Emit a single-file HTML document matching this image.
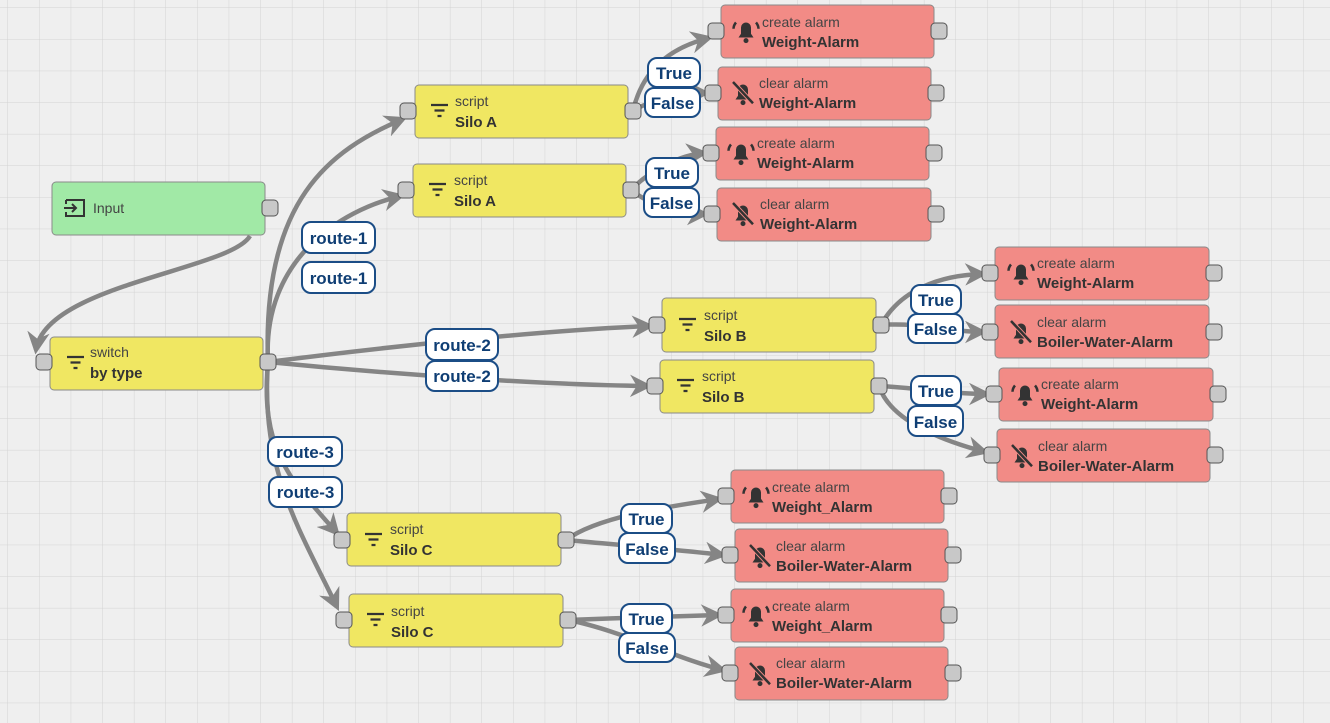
<!DOCTYPE html>
<html><head><meta charset="utf-8"><style>
html,body{margin:0;padding:0;background:#efefef;}
svg{display:block;font-family:"Liberation Sans",sans-serif;}
.n rect.b{stroke:#8a8a8a;stroke-width:1;}
.p{fill:#c8c8c8;stroke:#555;stroke-width:1;}
.t1{font-size:14px;fill:#444;}
.t2{font-size:15px;fill:#333;font-weight:bold;}
.e{fill:none;stroke:#858585;stroke-width:4.5;}
.lb rect{fill:#fff;stroke:#1b4d86;stroke-width:2;}
.lb text{font-size:17px;font-weight:bold;fill:#0f3e74;text-anchor:middle;}
.ic{stroke:#333;stroke-width:2;fill:none;}
</style></head><body>
<svg width="1330" height="723" viewBox="0 0 1330 723" xmlns="http://www.w3.org/2000/svg">
<defs>
<pattern id="g" width="31.6" height="31.6" patternUnits="userSpaceOnUse" x="8" y="8">
<path d="M31.6 0V31.6H0" fill="none" stroke="#d3d3d3" stroke-width="1"/></pattern>
<marker id="a" viewBox="0 0 10 10" refX="8" refY="5" markerWidth="5" markerHeight="5" orient="auto"><path d="M0 0L10 5L0 10L3 5Z" fill="#858585"/></marker>
<g id="flt"><path d="M0 0h17M3.5 5.5h10M6.5 11h4" stroke="#333" stroke-width="2.2"/></g>
<g id="bell" transform="scale(1.25)"><path d="M-6 6h12l-2-3v-5a4 4 0 0 0-8 0v5z" fill="#333"/><circle cx="0" cy="8.5" r="2" fill="#333"/><path d="M-8-6a8 8 0 0 0-2 5M8-6a8 8 0 0 1 2 5" stroke="#333" stroke-width="2" fill="none"/></g>
<g id="bellx" transform="scale(1.25)"><path d="M-6 6h12l-2-3v-5a4 4 0 0 0-8 0v5z" fill="#333"/><circle cx="0" cy="8.5" r="2" fill="#333"/><path d="M-8-8L8 9" stroke="#f28b86" stroke-width="3.5"/><path d="M-8-8L8 9" stroke="#333" stroke-width="2"/></g>
</defs>
<rect width="1330" height="723" fill="#efefef"/>
<rect width="1330" height="723" fill="url(#g)"/>

<g class="e">
<path d="M250 236 C230 270,45 285,36 350" marker-end="url(#a)"/>
<path d="M268 362 C262 200,330 150,403 119" marker-end="url(#a)"/>
<path d="M268 362 C262 260,340 210,401 196" marker-end="url(#a)"/>
<path d="M268 362 C400 345,550 330,650 326" marker-end="url(#a)"/>
<path d="M268 362 C400 375,550 385,648 386" marker-end="url(#a)"/>
<path d="M268 362 C260 450,290 480,337 533" marker-end="url(#a)"/>
<path d="M268 362 C260 470,300 530,337 607" marker-end="url(#a)"/>
<path d="M633 111 C640 80,660 50,709 38" marker-end="url(#a)"/>
<path d="M633 111 C650 100,680 93,706 93" marker-end="url(#a)"/>
<path d="M631 190 C650 170,680 155,704 153" marker-end="url(#a)"/>
<path d="M631 190 C650 205,680 214,705 214" marker-end="url(#a)"/>
<path d="M881 325 C900 290,940 275,983 274" marker-end="url(#a)"/>
<path d="M881 325 C920 322,950 332,983 332" marker-end="url(#a)"/>
<path d="M879 386 C920 388,950 394,987 394" marker-end="url(#a)"/>
<path d="M879 386 C890 420,940 440,985 452" marker-end="url(#a)"/>
<path d="M566 540 C600 515,680 505,719 499" marker-end="url(#a)"/>
<path d="M566 540 C620 545,680 550,723 555" marker-end="url(#a)"/>
<path d="M568 620 C620 618,680 616,719 615" marker-end="url(#a)"/>
<path d="M568 620 C620 630,680 660,723 670" marker-end="url(#a)"/>
</g>

<g class="n"><rect class="b" x="52" y="182" width="213" height="53" rx="4" fill="#a1e9a6"/>
<path d="M66 200h18v16h-18v-4M66 204v-4M64 208h12M72 204l4 4-4 4" class="ic"/>
<text x="93" y="213" class="t1">Input</text>
<rect class="p" x="262" y="200" width="16" height="16" rx="4"/></g>

<g class="n"><rect class="b" x="50" y="337" width="213" height="53" rx="4" fill="#f0e762"/>
<use href="#flt" x="67" y="357"/>
<text x="90" y="357" class="t1">switch</text><text x="90" y="378" class="t2">by type</text>
<rect class="p" x="36" y="354" width="16" height="16" rx="4"/><rect class="p" x="260" y="354" width="16" height="16" rx="4"/></g>

<g class="n"><rect class="b" x="415" y="85" width="213" height="53" rx="4" fill="#f0e762"/><use href="#flt" x="431" y="105"/><text x="455" y="106" class="t1">script</text><text x="455" y="127" class="t2">Silo A</text><rect class="p" x="400" y="103" width="16" height="16" rx="4"/><rect class="p" x="625" y="103" width="16" height="16" rx="4"/></g>
<g class="n"><rect class="b" x="413" y="164" width="213" height="53" rx="4" fill="#f0e762"/><use href="#flt" x="429" y="184"/><text x="454" y="185" class="t1">script</text><text x="454" y="206" class="t2">Silo A</text><rect class="p" x="398" y="182" width="16" height="16" rx="4"/><rect class="p" x="623" y="182" width="16" height="16" rx="4"/></g>
<g class="n"><rect class="b" x="662" y="298" width="214" height="54" rx="4" fill="#f0e762"/><use href="#flt" x="679" y="319"/><text x="704" y="320" class="t1">script</text><text x="704" y="341" class="t2">Silo B</text><rect class="p" x="649" y="317" width="16" height="16" rx="4"/><rect class="p" x="873" y="317" width="16" height="16" rx="4"/></g>
<g class="n"><rect class="b" x="660" y="360" width="214" height="53" rx="4" fill="#f0e762"/><use href="#flt" x="677" y="380"/><text x="702" y="381" class="t1">script</text><text x="702" y="402" class="t2">Silo B</text><rect class="p" x="647" y="378" width="16" height="16" rx="4"/><rect class="p" x="871" y="378" width="16" height="16" rx="4"/></g>
<g class="n"><rect class="b" x="347" y="513" width="214" height="53" rx="4" fill="#f0e762"/><use href="#flt" x="365" y="534"/><text x="390" y="534" class="t1">script</text><text x="390" y="555" class="t2">Silo C</text><rect class="p" x="334" y="532" width="16" height="16" rx="4"/><rect class="p" x="558" y="532" width="16" height="16" rx="4"/></g>
<g class="n"><rect class="b" x="349" y="594" width="214" height="53" rx="4" fill="#f0e762"/><use href="#flt" x="367" y="614"/><text x="391" y="616" class="t1">script</text><text x="391" y="637" class="t2">Silo C</text><rect class="p" x="336" y="612" width="16" height="16" rx="4"/><rect class="p" x="560" y="612" width="16" height="16" rx="4"/></g>

<g class="n"><rect class="b" x="721" y="5" width="213" height="53" rx="4" fill="#f28b86"/><use href="#bell" x="746" y="30"/><text x="762" y="27" class="t1">create alarm</text><text x="762" y="47" class="t2">Weight-Alarm</text><rect class="p" x="708" y="23" width="16" height="16" rx="4"/><rect class="p" x="931" y="23" width="16" height="16" rx="4"/></g>
<g class="n"><rect class="b" x="718" y="67" width="213" height="53" rx="4" fill="#f28b86"/><use href="#bellx" x="743" y="92"/><text x="759" y="88" class="t1">clear alarm</text><text x="759" y="108" class="t2">Weight-Alarm</text><rect class="p" x="705" y="85" width="16" height="16" rx="4"/><rect class="p" x="928" y="85" width="16" height="16" rx="4"/></g>
<g class="n"><rect class="b" x="716" y="127" width="213" height="53" rx="4" fill="#f28b86"/><use href="#bell" x="741" y="152"/><text x="757" y="148" class="t1">create alarm</text><text x="757" y="168" class="t2">Weight-Alarm</text><rect class="p" x="703" y="145" width="16" height="16" rx="4"/><rect class="p" x="926" y="145" width="16" height="16" rx="4"/></g>
<g class="n"><rect class="b" x="717" y="188" width="214" height="53" rx="4" fill="#f28b86"/><use href="#bellx" x="743" y="213"/><text x="760" y="209" class="t1">clear alarm</text><text x="760" y="229" class="t2">Weight-Alarm</text><rect class="p" x="704" y="206" width="16" height="16" rx="4"/><rect class="p" x="928" y="206" width="16" height="16" rx="4"/></g>
<g class="n"><rect class="b" x="995" y="247" width="214" height="53" rx="4" fill="#f28b86"/><use href="#bell" x="1021" y="272"/><text x="1037" y="268" class="t1">create alarm</text><text x="1037" y="288" class="t2">Weight-Alarm</text><rect class="p" x="982" y="265" width="16" height="16" rx="4"/><rect class="p" x="1206" y="265" width="16" height="16" rx="4"/></g>
<g class="n"><rect class="b" x="995" y="305" width="214" height="53" rx="4" fill="#f28b86"/><use href="#bellx" x="1021" y="331"/><text x="1037" y="327" class="t1">clear alarm</text><text x="1037" y="347" class="t2">Boiler-Water-Alarm</text><rect class="p" x="982" y="324" width="16" height="16" rx="4"/><rect class="p" x="1206" y="324" width="16" height="16" rx="4"/></g>
<g class="n"><rect class="b" x="999" y="368" width="214" height="53" rx="4" fill="#f28b86"/><use href="#bell" x="1025" y="393"/><text x="1041" y="389" class="t1">create alarm</text><text x="1041" y="409" class="t2">Weight-Alarm</text><rect class="p" x="986" y="386" width="16" height="16" rx="4"/><rect class="p" x="1210" y="386" width="16" height="16" rx="4"/></g>
<g class="n"><rect class="b" x="997" y="429" width="213" height="53" rx="4" fill="#f28b86"/><use href="#bellx" x="1022" y="455"/><text x="1038" y="451" class="t1">clear alarm</text><text x="1038" y="471" class="t2">Boiler-Water-Alarm</text><rect class="p" x="984" y="447" width="16" height="16" rx="4"/><rect class="p" x="1207" y="447" width="16" height="16" rx="4"/></g>
<g class="n"><rect class="b" x="731" y="470" width="213" height="53" rx="4" fill="#f28b86"/><use href="#bell" x="756" y="495"/><text x="772" y="492" class="t1">create alarm</text><text x="772" y="512" class="t2">Weight_Alarm</text><rect class="p" x="718" y="488" width="16" height="16" rx="4"/><rect class="p" x="941" y="488" width="16" height="16" rx="4"/></g>
<g class="n"><rect class="b" x="735" y="529" width="213" height="53" rx="4" fill="#f28b86"/><use href="#bellx" x="760" y="555"/><text x="776" y="551" class="t1">clear alarm</text><text x="776" y="571" class="t2">Boiler-Water-Alarm</text><rect class="p" x="722" y="547" width="16" height="16" rx="4"/><rect class="p" x="945" y="547" width="16" height="16" rx="4"/></g>
<g class="n"><rect class="b" x="731" y="589" width="213" height="53" rx="4" fill="#f28b86"/><use href="#bell" x="756" y="614"/><text x="772" y="611" class="t1">create alarm</text><text x="772" y="631" class="t2">Weight_Alarm</text><rect class="p" x="718" y="607" width="16" height="16" rx="4"/><rect class="p" x="941" y="607" width="16" height="16" rx="4"/></g>
<g class="n"><rect class="b" x="735" y="647" width="213" height="53" rx="4" fill="#f28b86"/><use href="#bellx" x="760" y="673"/><text x="776" y="668" class="t1">clear alarm</text><text x="776" y="688" class="t2">Boiler-Water-Alarm</text><rect class="p" x="722" y="665" width="16" height="16" rx="4"/><rect class="p" x="945" y="665" width="16" height="16" rx="4"/></g>

<g class="lb">
<rect x="302" y="222" width="73" height="31" rx="9"/><text x="338.5" y="244">route-1</text>
<rect x="302" y="262" width="73" height="31" rx="9"/><text x="338.5" y="284">route-1</text>
<rect x="426" y="329" width="72" height="31" rx="9"/><text x="462" y="351">route-2</text>
<rect x="426" y="361" width="72" height="30" rx="9"/><text x="462" y="382">route-2</text>
<rect x="268" y="437" width="74" height="29" rx="9"/><text x="305" y="458">route-3</text>
<rect x="269" y="477" width="73" height="30" rx="9"/><text x="305.5" y="498">route-3</text>
<rect x="648" y="58" width="52" height="29" rx="9"/><text x="674" y="79">True</text>
<rect x="645" y="88" width="55" height="29" rx="9"/><text x="672.5" y="109">False</text>
<rect x="646" y="158" width="52" height="29" rx="9"/><text x="672" y="179">True</text>
<rect x="644" y="188" width="55" height="29" rx="9"/><text x="671.5" y="209">False</text>
<rect x="911" y="285" width="50" height="29" rx="9"/><text x="936" y="306">True</text>
<rect x="908" y="314" width="55" height="29" rx="9"/><text x="935.5" y="335">False</text>
<rect x="911" y="376" width="50" height="29" rx="9"/><text x="936" y="397">True</text>
<rect x="908" y="406" width="55" height="30" rx="9"/><text x="935.5" y="428">False</text>
<rect x="621" y="504" width="51" height="29" rx="9"/><text x="646.5" y="525">True</text>
<rect x="619" y="533" width="56" height="30" rx="9"/><text x="647" y="555">False</text>
<rect x="621" y="604" width="51" height="29" rx="9"/><text x="646.5" y="625">True</text>
<rect x="619" y="633" width="56" height="29" rx="9"/><text x="647" y="654">False</text>
</g>
</svg>
</body></html>
